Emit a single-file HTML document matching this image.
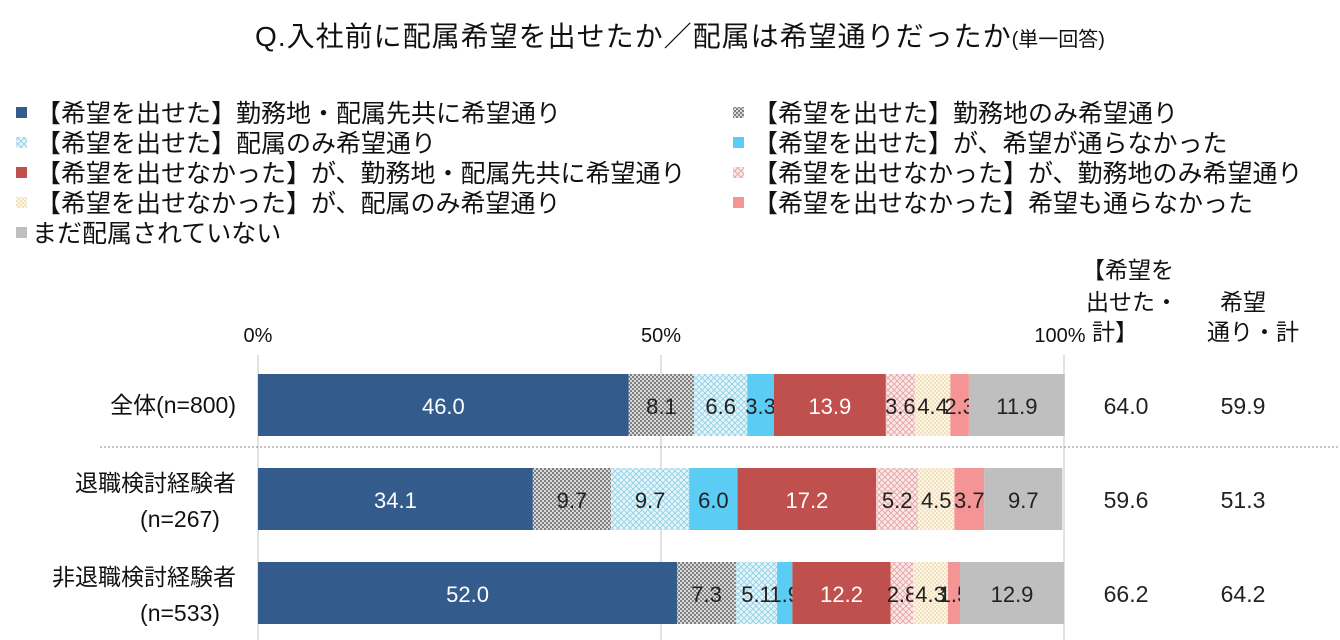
<!DOCTYPE html>
<html><head><meta charset="utf-8"><style>
body{margin:0;background:#fff;}
svg{display:block;font-family:"Liberation Sans","Noto Sans CJK JP",sans-serif;}
</style></head><body>
<svg id="chart" width="1340" height="640" viewBox="0 0 1340 640">
<defs>
<pattern id="p-dots" width="4" height="4" patternUnits="userSpaceOnUse"><rect width="4" height="4" fill="#d9d9d9"/><circle cx="1" cy="1" r="0.9" fill="#404040"/><circle cx="3" cy="3" r="0.9" fill="#404040"/></pattern>
<pattern id="p-blue-x" width="6" height="6" patternUnits="userSpaceOnUse"><rect width="6" height="6" fill="#e6f5fb"/><path d="M0 0L6 6M6 0L0 6" stroke="#8fd0e6" stroke-width="0.9"/></pattern>
<pattern id="p-red-x" width="6" height="6" patternUnits="userSpaceOnUse"><rect width="6" height="6" fill="#fbe8e8"/><path d="M0 0L6 6M6 0L0 6" stroke="#e4a3a3" stroke-width="0.9"/></pattern>
<pattern id="p-yel" width="4" height="4" patternUnits="userSpaceOnUse"><rect width="4" height="4" fill="#fdf6e6"/><circle cx="1" cy="1" r="0.8" fill="#e6c98c"/><circle cx="3" cy="3" r="0.8" fill="#e6c98c"/></pattern>
</defs>
<text x="680" y="46" text-anchor="middle" font-size="28" letter-spacing="1" fill="#111">Q.入社前に配属希望を出せたか／配属は希望通りだったか<tspan font-size="20" letter-spacing="0">(単一回答)</tspan></text>
<g id="legend"></g>
<g id="plot"></g>
</svg>
<script>
const categories = ["全体(n=800)", "退職検討経験者|(n=267)", "非退職検討経験者|(n=533)"];
const seriesNames = ["【希望を出せた】勤務地・配属先共に希望通り","【希望を出せた】勤務地のみ希望通り","【希望を出せた】配属のみ希望通り","【希望を出せた】が、希望が通らなかった","【希望を出せなかった】が、勤務地・配属先共に希望通り","【希望を出せなかった】が、勤務地のみ希望通り","【希望を出せなかった】が、配属のみ希望通り","【希望を出せなかった】希望も通らなかった","まだ配属されていない"];
const s1 = [46.0, 34.1, 52.0];
const s2 = [8.1, 9.7, 7.3];
const s3 = [6.6, 9.7, 5.1];
const s4 = [3.3, 6.0, 1.9];
const s5 = [13.9, 17.2, 12.2];
const s6 = [3.6, 5.2, 2.8];
const s7 = [4.4, 4.5, 4.3];
const s8 = [2.3, 3.7, 1.5];
const s9 = [11.9, 9.7, 12.9];
const totalCanSubmit = ["64.0", "59.6", "66.2"];
const totalAsWished = ["59.9", "51.3", "64.2"];
const tickValues = [0, 50, 100];
const tickLabels = ["0%", "50%", "100%"];

const series = [s1,s2,s3,s4,s5,s6,s7,s8,s9];
const fills = ["#335c8c","url(#p-dots)","url(#p-blue-x)","#5bcdf5","#c0504d","url(#p-red-x)","url(#p-yel)","#f59494","#bfbfbf"];
const textColors = ["#fff","#222","#222","#222","#fff","#222","#222","#222","#222"];
const NS = "http://www.w3.org/2000/svg";
const X0 = 258, X1 = 1064;
const x = v => X0 + (X1 - X0) * v / 100;
const rowTop = i => 374 + i * 94;
const BAR_H = 62;
function el(tag, attrs, parent){const e=document.createElementNS(NS,tag);for(const k in attrs)e.setAttribute(k,attrs[k]);parent.appendChild(e);return e;}
const plot = document.getElementById('plot');
const legend = document.getElementById('legend');

seriesNames.forEach((n,i)=>{
  const col = (i===8)?0:(i%2), row = Math.floor(i/2);
  const lx = col===0?16:733, ly = 113 + row*30;
  const g = el('g',{},legend);
  
  
  el('rect',{x:lx,y:ly-6,width:11,height:11,fill:fills[i]},g);
  const t = el('text',{x:(i===8?lx+16:lx+20),y:ly+9,'font-size':25,fill:'#111'},g);
  t.textContent = n;
});

tickValues.forEach((v,i)=>{
  const l = el('line',{x1:x(v),x2:x(v),y1:355,y2:640,stroke:'#d9d9d9','stroke-width':1.5},plot);
  
  
  const t = el('text',{x:x(v)+(i===2?-4:0),y:342,'text-anchor':'middle','font-size':20,fill:'#111'},plot);
  
  
  t.textContent = tickLabels[i];
});
const sep = el('line',{x1:100,x2:1340,y1:447,y2:447,stroke:'#888','stroke-dasharray':'2,2'},plot);



[["【希望を",1128,278],["出せた・",1132,310],["計】",1115,340],["希望",1243,310],["通り・計",1253,340]].forEach(h=>{
  const t = el('text',{x:h[1],y:h[2],'text-anchor':'middle','font-size':23,fill:'#111'},plot);
  
  
  t.textContent = h[0];
});

categories.forEach((c,i)=>{
  const top = rowTop(i), cy = top + BAR_H/2;
  const parts = c.split('|');
  parts.forEach((p,j)=>{
    const t = el('text',{x:parts.length>1&&j===1?180:236,y:cy+8+(parts.length>1?(j===0?-16:20):0),'text-anchor':parts.length>1&&j===1?'middle':'end','font-size':23,fill:'#111'},plot);
    
    
    t.textContent = p;
  });
  let acc = 0;
  series.forEach((s,k)=>{
    const v = s[i];
    const r = el('rect',{x:x(acc),y:top,width:Math.max(0,x(acc+v)-x(acc)),height:BAR_H,fill:fills[k]},plot);
    
    
    const t = el('text',{x:(x(acc)+x(acc+v))/2,y:cy+9,'text-anchor':'middle','font-size':22,fill:textColors[k]},plot);
    
    
    t.textContent = v.toFixed(1);
    acc += v;
  });
  const a = el('text',{x:1126,y:cy+9,'text-anchor':'middle','font-size':23,fill:'#222'},plot);
  
  
  a.textContent = totalCanSubmit[i];
  const b = el('text',{x:1243,y:cy+9,'text-anchor':'middle','font-size':23,fill:'#222'},plot);
  
  
  b.textContent = totalAsWished[i];
});
</script>
</body></html>
